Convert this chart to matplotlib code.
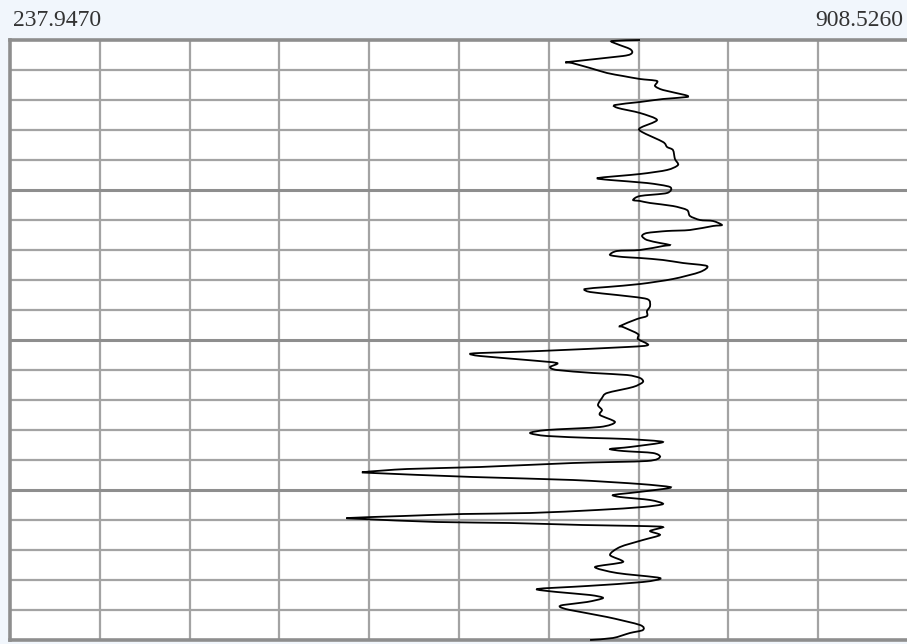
import matplotlib
matplotlib.use("Agg")
import matplotlib.pyplot as plt
from matplotlib.path import Path
from matplotlib.patches import PathPatch
import numpy as np

# Track scale limits
x_min = 237.9470
x_max = 908.5260
n_cols = 10

# Depth (relative units, increasing downward) and log values
depth = [0, 1, 4, 9, 13, 16, 22, 23, 28, 33, 36, 39, 41, 46, 50, 55, 57, 59, 62, 65,
         68, 73, 80, 88, 92, 102, 107, 110, 119, 125, 130, 134, 138, 140, 143, 147, 153, 156, 160, 161,
         163, 166, 170, 176, 180, 181, 185, 186, 190, 191, 193, 196, 200, 203, 205, 206, 210, 211, 215, 217,
         218, 220, 223, 226, 232, 239, 244, 247, 249, 252, 255, 259, 266, 271, 276, 279, 286, 287, 294, 299,
         305, 307, 311, 313, 314, 316, 320, 323, 327, 330, 333, 335, 338, 342, 347, 353, 358, 365, 370, 375,
         382, 387, 390, 393, 396, 398, 399, 402, 407, 409, 411, 413, 417, 421, 423, 427, 429, 432, 433, 437,
         440, 444, 447, 449, 453, 455, 457, 460, 464, 467, 470, 473, 474, 476, 478, 479, 482, 483, 485, 486,
         487, 491, 495, 500, 507, 515, 522, 527, 533, 538, 542, 546, 549, 552, 555, 558, 562, 565, 567, 570,
         577, 585, 590, 593, 598, 600]

log_value = [708.4, 687.5, 691.2, 700.9, 702.4, 695.7, 654.6, 657.6, 671.1, 683.8,
             695.7, 708.4, 721.1, 719.6, 725.6, 742.0, 743.5, 725.6, 708.4, 689.7,
             692.0, 708.4, 721.1, 708.4, 709.9, 725.6, 728.6, 733.0, 734.5, 736.8,
             728.6, 708.4, 677.0, 686.0, 713.6, 730.8, 728.6, 708.4, 703.2, 708.4,
             715.9, 733.0, 743.5, 745.7, 753.2, 762.9, 769.6, 762.9, 745.7, 728.6,
             713.6, 709.9, 713.6, 723.3, 730.8, 725.6, 708.4, 691.2, 686.0, 695.7,
             708.4, 725.6, 740.5, 758.4, 753.2, 733.0, 708.4, 683.8, 667.3, 671.1,
             691.2, 713.6, 715.9, 713.6, 713.6, 706.2, 693.5, 695.7, 706.9, 706.9,
             714.4, 698.7, 633.7, 588.9, 581.5, 588.9, 624.0, 646.4, 641.2, 646.4,
             673.3, 698.7, 708.4, 710.6, 703.2, 683.8, 680.0, 677.0, 680.0, 678.5,
             689.7, 678.5, 639.0, 626.3, 639.0, 673.3, 698.7, 725.6, 700.9, 686.0,
             695.7, 718.1, 723.3, 713.6, 658.4, 588.9, 534.4, 503.0, 509.0, 583.7,
             658.4, 708.4, 730.8, 725.6, 700.9, 688.2, 693.5, 715.9, 725.6, 710.6,
             676.3, 626.3, 576.2, 531.4, 490.3, 501.5, 556.8, 611.3, 665.8, 708.4,
             725.6, 715.9, 723.3, 710.6, 693.5, 686.0, 695.7, 674.8, 691.2, 723.3,
             710.6, 668.8, 631.5, 646.4, 671.1, 680.8, 668.8, 650.9, 648.7, 656.1,
             683.8, 708.4, 710.6, 700.9, 688.2, 671.1]

depth_top, depth_bottom = 0, 600
row_step = 30
major_row_step = 150


def smooth_path(xs, ys, tension=0.4):
    """Cubic Bezier path through every point (Catmull-Rom style tangents)."""
    p = np.column_stack([xs, ys]).astype(float)
    n = len(p)
    verts = [p[0]]
    codes = [Path.MOVETO]
    for i in range(n - 1):
        p0 = p[i - 1] if i > 0 else p[i]
        p1, p2 = p[i], p[i + 1]
        p3 = p[i + 2] if i + 2 < n else p[i + 1]
        c1 = p1 + (p2 - p0) * tension / 3.0
        c2 = p2 - (p3 - p1) * tension / 3.0
        verts += [c1, c2, p2]
        codes += [Path.CURVE4] * 3
    return Path(verts, codes)


W, H = 907, 644
fig = plt.figure(figsize=(W / 100, H / 100), dpi=100)
fig.patch.set_facecolor("#F1F6FC")

ax = fig.add_axes([10 / W, 4 / H, 898 / W, 600 / H])
ax.set_facecolor("white")
ax.set_xlim(x_min, x_max)
ax.set_ylim(depth_bottom, depth_top)

col_edges = np.linspace(x_min, x_max, n_cols + 1)
minor_rows = [d for d in range(depth_top, depth_bottom + 1, row_step) if d % major_row_step != 0]
major_rows = list(range(depth_top, depth_bottom + 1, major_row_step))

for xv in col_edges[1:-1]:
    ax.axvline(xv, color="#A3A3A3", lw=1.6, zorder=1)
for d in minor_rows:
    ax.axhline(d, color="#A3A3A3", lw=1.6, zorder=1)
for d in major_rows[1:-1]:
    ax.axhline(d, color="#8E8E8E", lw=2.2, zorder=1)

curve = PathPatch(smooth_path(log_value, depth), facecolor="none",
                  edgecolor="black", lw=1.3, zorder=3, clip_on=False)
ax.add_patch(curve)

for side in ["left", "top", "bottom"]:
    ax.spines[side].set_color("#8E8E8E")
    ax.spines[side].set_linewidth(2.6)
ax.spines["right"].set_visible(False)
ax.set_xticks([])
ax.set_yticks([])

fig.text(13 / W, 1 - 21 / H, f"{x_min:.4f}", ha="left", va="center",
         fontsize=17, family="Liberation Serif", color="#333333")
fig.text(903 / W, 1 - 21 / H, f"{x_max:.4f}", ha="right", va="center",
         fontsize=17, family="Liberation Serif", color="#333333")

fig.savefig("out.png", dpi=100, facecolor=fig.get_facecolor())
